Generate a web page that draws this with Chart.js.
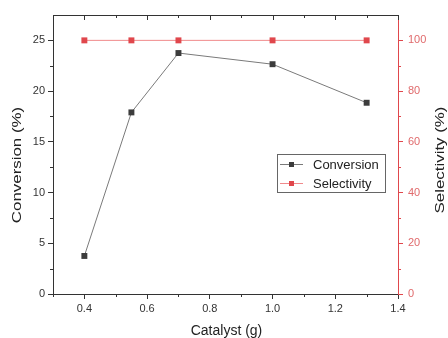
<!DOCTYPE html>
<html><head><meta charset="utf-8">
<script src="https://cdn.jsdelivr.net/npm/chart.js@4"></script>
<style>html,body{margin:0;padding:0;background:#fff}#wrap{width:448px;height:338px}</style>
</head><body><div id="wrap"><canvas id="c" width="448" height="338"></canvas></div>
<script>
const catalyst = [0.4, 0.55, 0.7, 1.0, 1.3];
const conversion = [3.75, 17.9, 23.75, 22.65, 18.85];
const selectivity = [100, 100, 100, 100, 100];
const xTicks = [0.4, 0.6, 0.8, 1.0, 1.2, 1.4];
const xMinor = [0.3, 0.5, 0.7, 0.9, 1.1, 1.3];
const yTicks = [0, 5, 10, 15, 20, 25];
const yMinor = [2.5, 7.5, 12.5, 17.5, 22.5];
const y2Ticks = [0, 20, 40, 60, 80, 100];
const y2Minor = [10, 30, 50, 70, 90];
const leftTitle = 'Conversion (%)';
const rightTitle = 'Selectivity (%)';
const bottomTitle = 'Catalyst (g)';

const FONT = "'Liberation Sans', Arial, sans-serif";
const RED = '#e0474c';
const RED_LIGHT = '#f08a8c';
const DARK = '#3c3c3c';

function vTitle(ctx, text, cx, cy) {
  ctx.save();
  ctx.translate(cx, cy);
  ctx.rotate(-Math.PI / 2);
  ctx.scale(1.25, 1);
  ctx.fillStyle = '#222';
  ctx.font = '13.5px ' + FONT;
  ctx.textAlign = 'center';
  ctx.textBaseline = 'middle';
  ctx.fillText(text, 0, 0);
  ctx.restore();
}

const extras = {
  id: 'extras',
  afterDraw(chart) {
    const ctx = chart.ctx, a = chart.chartArea;
    const x = chart.scales.x, y = chart.scales.y, y2 = chart.scales.y2;
    ctx.save();
    ctx.lineWidth = 1;
    ctx.strokeStyle = '#333';
    ctx.beginPath(); ctx.moveTo(a.left, a.top + 0.5); ctx.lineTo(a.right, a.top + 0.5); ctx.stroke();
    ctx.beginPath();
    xTicks.forEach(v => { const px = Math.round(x.getPixelForValue(v)) + 0.5; ctx.moveTo(px, a.top); ctx.lineTo(px, a.top + 5); });
    xMinor.forEach(v => { const px = Math.round(x.getPixelForValue(v)) + 0.5; ctx.moveTo(px, a.top); ctx.lineTo(px, a.top + 3); });
    xMinor.forEach(v => { const px = Math.round(x.getPixelForValue(v)) + 0.5; ctx.moveTo(px, a.bottom); ctx.lineTo(px, a.bottom + 3); });
    yMinor.forEach(v => { const py = Math.round(y.getPixelForValue(v)) + 0.5; ctx.moveTo(a.left, py); ctx.lineTo(a.left - 3, py); });
    ctx.stroke();
    ctx.strokeStyle = RED;
    ctx.beginPath();
    y2Minor.forEach(v => { const py = Math.round(y2.getPixelForValue(v)) + 0.5; ctx.moveTo(a.right, py); ctx.lineTo(a.right + 3, py); });
    ctx.stroke();

    vTitle(ctx, leftTitle, 17, 165);
    vTitle(ctx, rightTitle, 440, 160);

    ctx.fillStyle = '#222';
    ctx.font = '14px ' + FONT;
    ctx.textAlign = 'center';
    ctx.textBaseline = 'middle';
    ctx.fillText(bottomTitle, (a.left + a.right) / 2 + 1, 331);
    ctx.textAlign = 'left';

    // legend
    const lx = 277, ly = 154, lw = 108, lh = 38;
    ctx.fillStyle = '#fff';
    ctx.fillRect(lx, ly, lw, lh);
    ctx.strokeStyle = '#666';
    ctx.strokeRect(lx + 0.5, ly + 0.5, lw, lh);
    ctx.font = '13px ' + FONT;
    ctx.textBaseline = 'middle';
    chart.data.datasets.forEach((ds, i) => {
      const cy = Math.round(ly + 10 + i * 18.5);
      ctx.strokeStyle = ds.borderColor;
      ctx.beginPath(); ctx.moveTo(lx + 3, cy + 0.5); ctx.lineTo(lx + 26, cy + 0.5); ctx.stroke();
      ctx.fillStyle = ds.pointBackgroundColor;
      ctx.fillRect(lx + 12, cy - 2, 5, 5);
      ctx.fillStyle = '#222';
      ctx.fillText(ds.label, lx + 36, cy + 1);
    });
    ctx.restore();
  }
};

new Chart(document.getElementById('c'), {
  type: 'line',
  data: {
    datasets: [
      { label: 'Conversion', data: catalyst.map((c, i) => ({x: c, y: conversion[i]})), yAxisID: 'y',
        borderColor: '#7a7a7a', borderWidth: 1, pointStyle: 'rect', pointRadius: 4.2,
        pointBackgroundColor: DARK, pointBorderColor: DARK, pointBorderWidth: 0 },
      { label: 'Selectivity', data: catalyst.map((c, i) => ({x: c, y: selectivity[i]})), yAxisID: 'y2',
        borderColor: RED_LIGHT, borderWidth: 1, pointStyle: 'rect', pointRadius: 4.2,
        pointBackgroundColor: RED, pointBorderColor: RED, pointBorderWidth: 0 }
    ]
  },
  options: {
    responsive: false, animation: false, devicePixelRatio: 1,
    layout: { padding: { top: 15, left: 0, right: 0, bottom: 0 } },
    plugins: { legend: { display: false }, tooltip: { enabled: false } },
    scales: {
      x: {
        type: 'linear', min: 0.3, max: 1.4,
        afterBuildTicks: s => { s.ticks = xTicks.map(v => ({value: v})); },
        afterFit: s => { s.height = 44; },
        grid: { drawOnChartArea: false, drawTicks: true, tickLength: 5, color: '#333' },
        border: { color: '#333', width: 1 },
        ticks: { color: '#333', padding: 3, font: { family: FONT, size: 11 }, callback: v => v.toFixed(1) },
        title: { display: false }
      },
      y: {
        position: 'left', min: 0, max: 27.5,
        afterBuildTicks: s => { s.ticks = yTicks.map(v => ({value: v})); },
        afterFit: s => { s.width = 53; },
        grid: { drawOnChartArea: false, drawTicks: true, tickLength: 5, color: '#333' },
        border: { color: '#333', width: 1 },
        ticks: { color: '#333', padding: 3, font: { family: FONT, size: 11 } },
        title: { display: false }
      },
      y2: {
        position: 'right', min: 0, max: 110,
        afterBuildTicks: s => { s.ticks = y2Ticks.map(v => ({value: v})); },
        afterFit: s => { s.width = 50; },
        grid: { drawOnChartArea: false, drawTicks: true, tickLength: 5, color: RED },
        border: { color: RED, width: 1 },
        ticks: { color: '#e06a6c', padding: 5, font: { family: FONT, size: 11 } },
        title: { display: false }
      }
    }
  },
  plugins: [extras]
});
</script></body></html>
